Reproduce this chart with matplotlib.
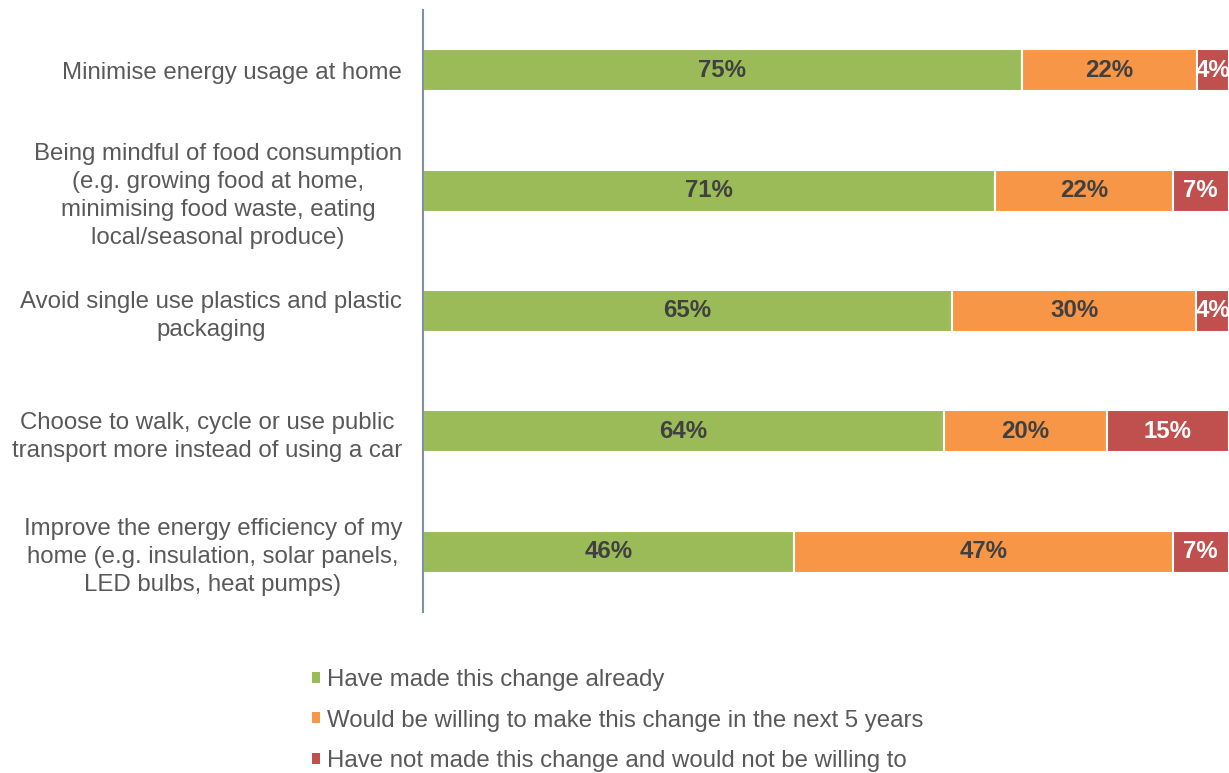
import numpy as np
import matplotlib
matplotlib.use('Agg')
import matplotlib.pyplot as plt
from matplotlib.patches import Patch

plt.rcParams['font.family'] = ['Liberation Sans', 'DejaVu Sans']

categories = [
    'Minimise energy usage at home',
    'Being mindful of food consumption\n(e.g. growing food at home,\nminimising food waste, eating\nlocal/seasonal produce)',
    'Avoid single use plastics and plastic\npackaging',
    'Choose to walk, cycle or use public\ntransport more instead of using a car',
    'Improve the energy efficiency of my\nhome (e.g. insulation, solar panels,\nLED bulbs, heat pumps)',
]
made_already = [75, 71, 65, 64, 46]
willing_5yrs = [22, 22, 30, 20, 47]
not_willing = [4, 7, 4, 15, 7]
series_names = [
    'Have made this change already',
    'Would be willing to make this change in the next 5 years',
    'Have not made this change and would not be willing to',
]
colors = ['#9BBB59', '#F79646', '#C0504D']
label_colors = ['#404040', '#404040', 'white']

data = np.array([made_already, willing_5yrs, not_willing], dtype=float)
shares = data / data.sum(axis=0)  # each bar fills the full width

fig = plt.figure(figsize=(12.29, 7.73), dpi=100)
ax = fig.add_axes([423 / 1229, 1 - 612 / 773, 1 - 423 / 1229, 602 / 773])

y = np.arange(len(categories))
left = np.zeros(len(categories))
for i in range(3):
    bars = ax.barh(y, shares[i], left=left, height=0.35, color=colors[i],
                   edgecolor='white', linewidth=1.5, label=series_names[i])
    for b, v in zip(bars, data[i]):
        ax.text(b.get_x() + b.get_width() / 2, b.get_y() + b.get_height() / 2,
                f'{v:.0f}%', ha='center', va='center', fontsize=17.3,
                fontweight='bold', color=label_colors[i])
    left += shares[i]

ax.set_xlim(0, 1)
ax.set_ylim(len(categories) - 0.5, -0.5)
ax.set_yticks(y)
ax.set_yticklabels(categories, fontsize=17.3, color='#595959',
                   multialignment='center', linespacing=1.35)
ax.tick_params(axis='y', length=0, pad=15)
ax.set_xticks([])
for s in ['top', 'right', 'bottom']:
    ax.spines[s].set_visible(False)
ax.spines['left'].set_color('#7F8FA6')
ax.spines['left'].set_linewidth(1.5)

handles = [Patch(facecolor=c) for c in colors]
fig.legend(handles, series_names, loc='upper left', bbox_to_anchor=(312 / 1229, 1 - 669 / 773),
           frameon=False, fontsize=17.3, labelcolor='#595959', handlelength=0.33,
           handleheight=0.33, handletextpad=0.3, labelspacing=0.77, borderpad=0,
           borderaxespad=0)

fig.savefig('out.png', dpi=100)
